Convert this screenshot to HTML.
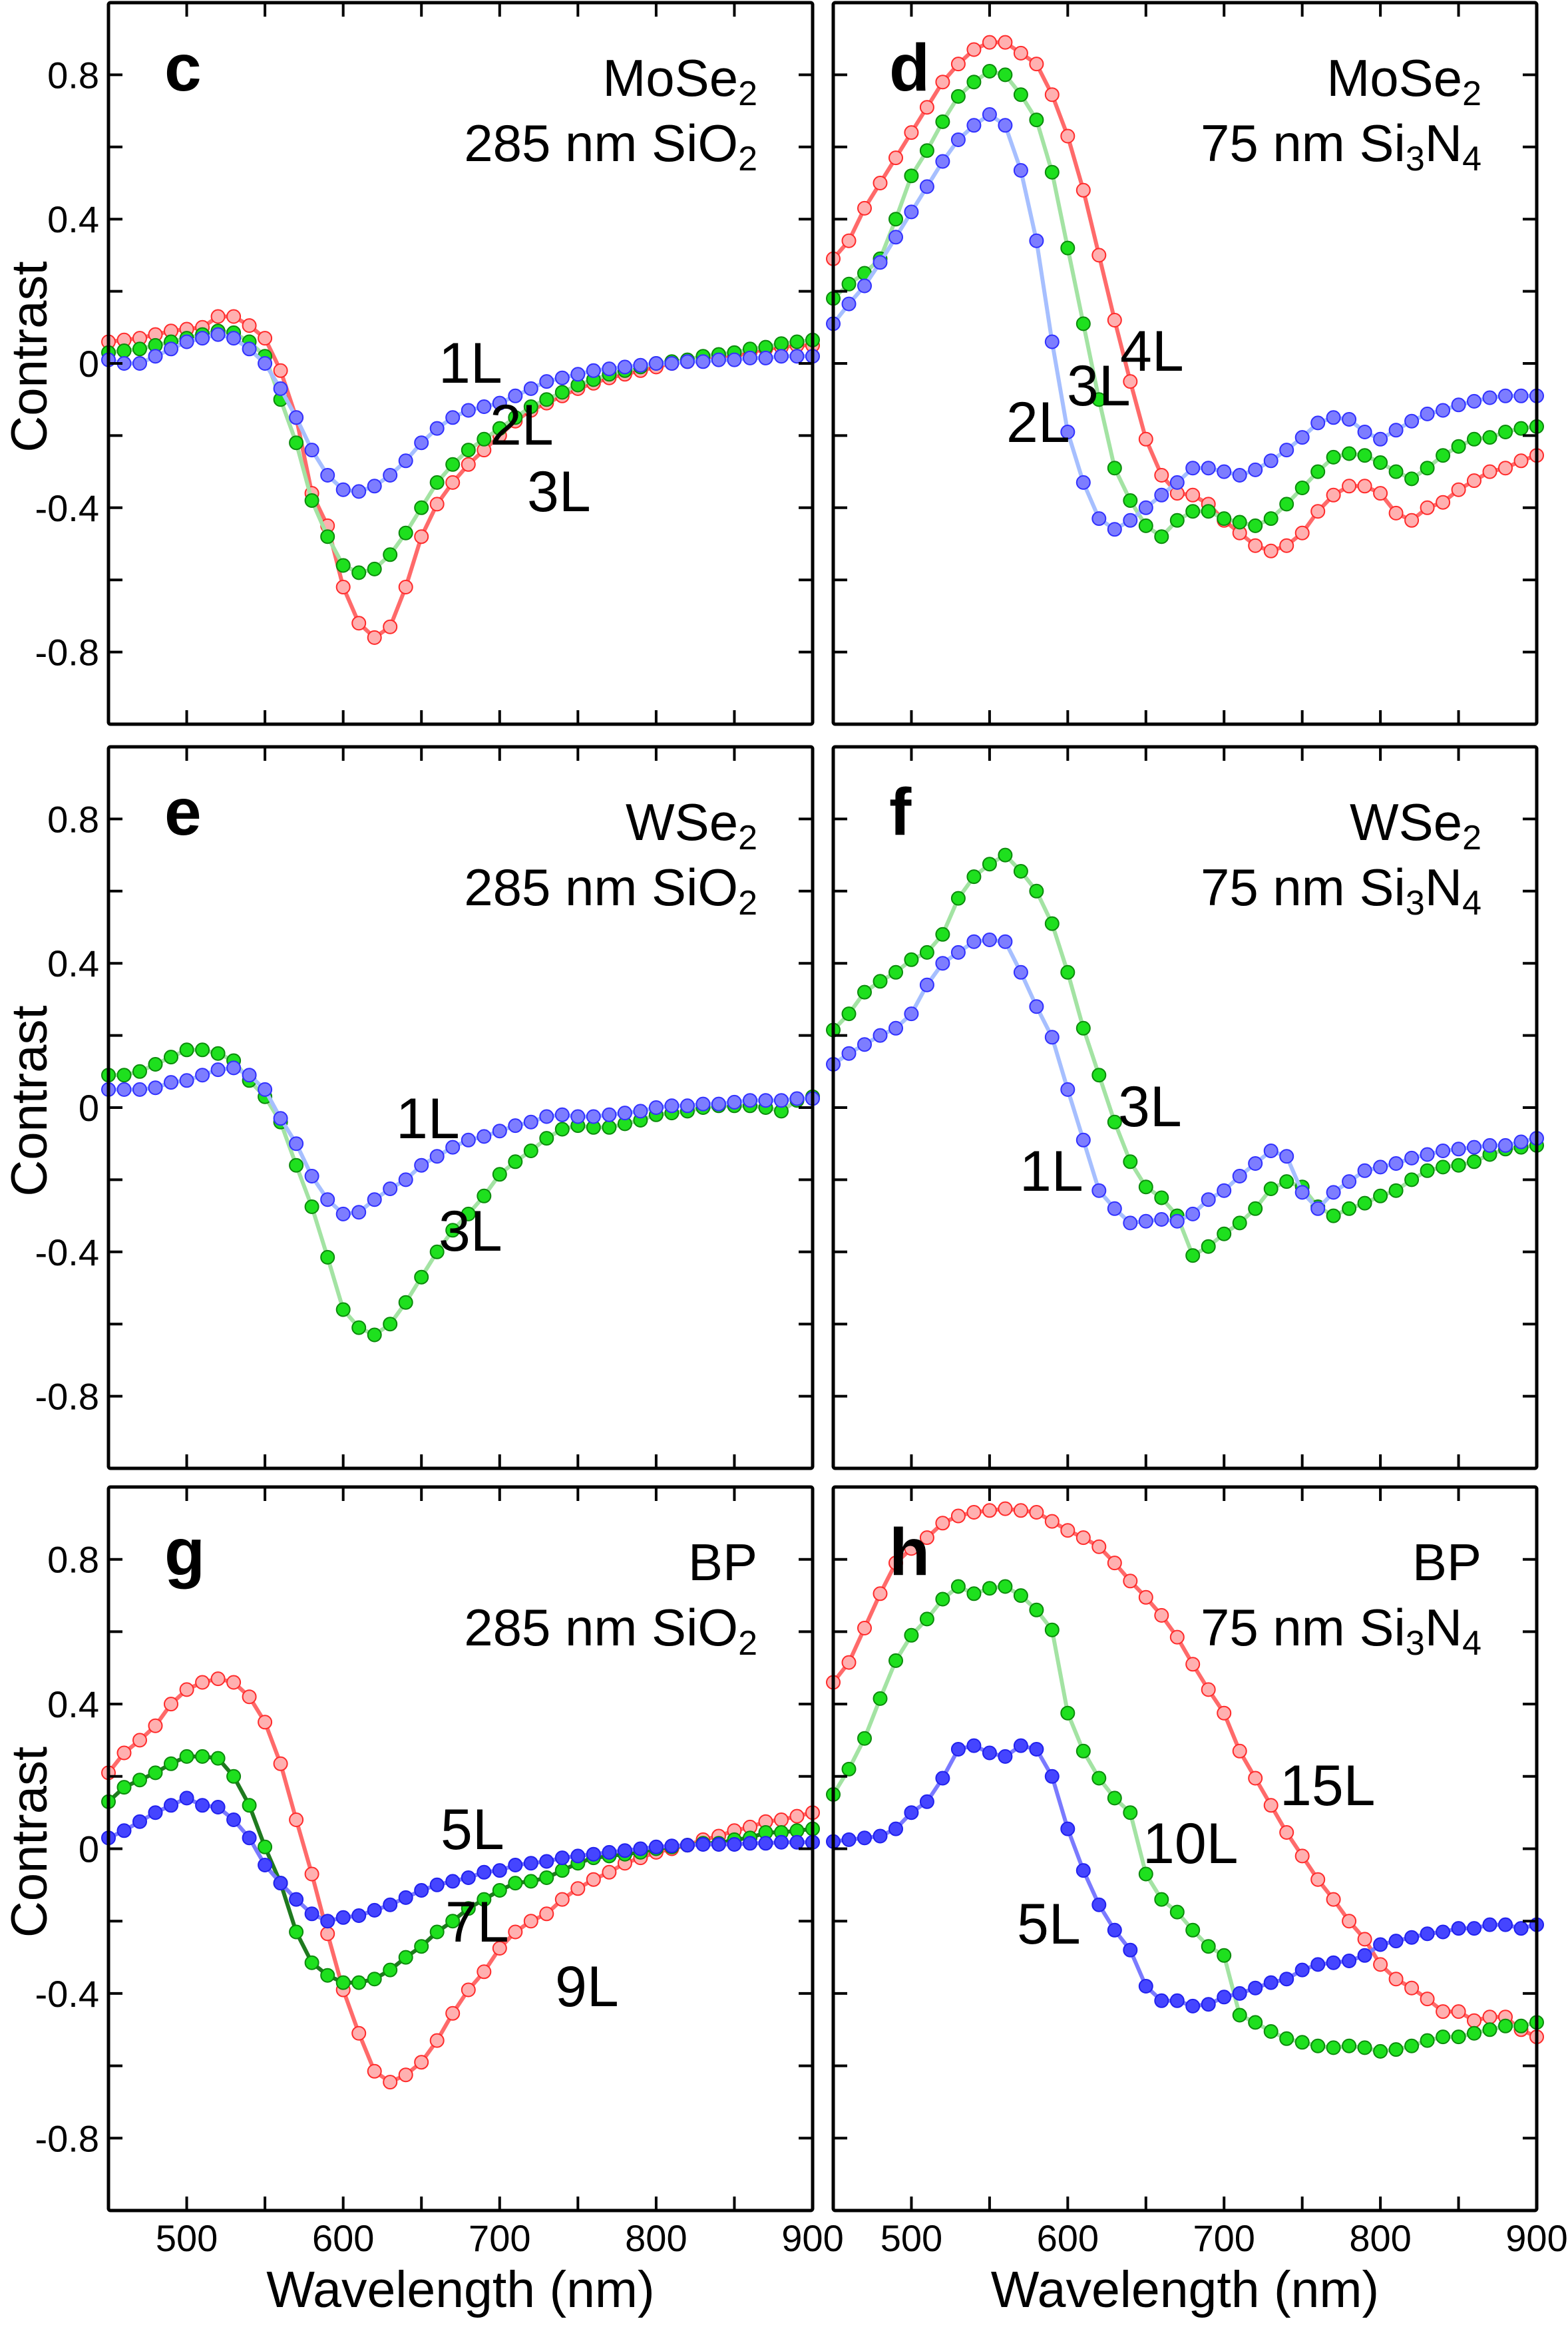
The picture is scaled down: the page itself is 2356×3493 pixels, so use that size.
<!DOCTYPE html>
<html>
<head>
<meta charset="utf-8">
<style>
html,body{margin:0;padding:0;background:#fff;}
svg{display:block;}
text{font-family:"Liberation Sans",sans-serif;fill:#000;}
</style>
</head>
<body>
<svg id="fig" width="2356" height="3493" viewBox="0 0 2356 3493" xmlns="http://www.w3.org/2000/svg"></svg>
<script>
const wavelengths = [];
for (let w = 450; w <= 900; w += 10) wavelengths.push(w);
const yTickValues = [-0.8, -0.6, -0.4, -0.2, 0, 0.2, 0.4, 0.6, 0.8];
const yTickLabels = ["-0.8", "", "-0.4", "", "0", "", "0.4", "", "0.8"];
const xTickValues = [500, 550, 600, 650, 700, 750, 800, 850, 900];
const xTickLabels = ["500", "", "600", "", "700", "", "800", "", "900"];

const cRed = [.06,.065,.07,.08,.09,.095,.10,.13,.13,.105,.07,-.02,-.15,-.36,-.45,-.62,-.72,-.76,-.73,-.62,-.48,-.39,-.33,-.28,-.24,-.20,-.16,-.13,-.11,-.09,-.07,-.055,-.04,-.03,-.02,-.01,0,.005,.01,.015,.02,.03,.04,.045,.05,.05];
const cGreen = [.03,.035,.04,.05,.06,.07,.08,.09,.085,.06,.02,-.10,-.22,-.38,-.48,-.56,-.58,-.57,-.53,-.47,-.40,-.33,-.28,-.24,-.21,-.18,-.15,-.12,-.10,-.08,-.06,-.045,-.03,-.02,-.01,0,.005,.01,.02,.025,.03,.04,.045,.055,.06,.065];
const cBlue = [.01,0,0,.02,.04,.06,.07,.08,.07,.04,0,-.07,-.15,-.24,-.31,-.35,-.355,-.34,-.31,-.27,-.22,-.18,-.15,-.13,-.12,-.11,-.09,-.07,-.05,-.04,-.03,-.02,-.015,-.01,-.005,0,0,.005,.005,.01,.01,.015,.015,.02,.02,.02];

const dRed = [.29,.34,.43,.50,.57,.64,.71,.78,.83,.87,.89,.89,.86,.83,.745,.63,.48,.30,.12,-.05,-.21,-.31,-.36,-.365,-.39,-.435,-.47,-.505,-.52,-.505,-.47,-.41,-.365,-.34,-.34,-.36,-.415,-.435,-.40,-.385,-.35,-.325,-.30,-.29,-.27,-.255];
const dGreen = [.18,.22,.25,.29,.40,.52,.59,.67,.74,.78,.81,.80,.745,.675,.53,.32,.11,-.10,-.29,-.38,-.45,-.48,-.435,-.41,-.41,-.43,-.44,-.45,-.43,-.39,-.345,-.30,-.26,-.25,-.255,-.275,-.30,-.32,-.29,-.255,-.23,-.21,-.205,-.19,-.18,-.175];
const dBlue = [.11,.165,.215,.28,.35,.42,.49,.56,.62,.66,.69,.66,.535,.34,.06,-.19,-.33,-.43,-.46,-.435,-.40,-.365,-.33,-.29,-.29,-.30,-.31,-.295,-.27,-.24,-.205,-.165,-.15,-.155,-.19,-.21,-.185,-.16,-.14,-.13,-.115,-.105,-.095,-.09,-.09,-.09];

const eGreen = [.09,.09,.10,.12,.14,.16,.16,.15,.13,.075,.03,-.04,-.16,-.275,-.415,-.56,-.61,-.63,-.60,-.54,-.47,-.40,-.34,-.295,-.245,-.185,-.15,-.12,-.085,-.06,-.05,-.055,-.055,-.045,-.035,-.02,-.015,-.01,0,.005,.005,.005,0,-.01,.02,.03];
const eBlue = [.05,.05,.05,.055,.07,.075,.09,.105,.11,.09,.05,-.03,-.10,-.19,-.255,-.295,-.29,-.255,-.225,-.20,-.16,-.135,-.11,-.09,-.08,-.065,-.05,-.04,-.025,-.02,-.025,-.025,-.02,-.015,-.01,0,.005,.005,.01,.01,.015,.02,.02,.02,.025,.025];

const fGreen = [.215,.26,.32,.35,.375,.41,.43,.48,.58,.64,.675,.70,.655,.60,.51,.375,.22,.09,-.04,-.15,-.22,-.25,-.30,-.41,-.385,-.35,-.32,-.28,-.225,-.205,-.22,-.275,-.30,-.28,-.265,-.245,-.23,-.20,-.175,-.165,-.16,-.15,-.13,-.115,-.11,-.105];
const fBlue = [.12,.15,.175,.20,.22,.26,.34,.40,.43,.46,.465,.46,.375,.28,.195,.05,-.09,-.23,-.28,-.32,-.315,-.31,-.315,-.295,-.255,-.23,-.19,-.155,-.12,-.135,-.235,-.28,-.235,-.205,-.175,-.165,-.155,-.14,-.13,-.12,-.115,-.11,-.105,-.105,-.095,-.085];

const gRed = [.21,.265,.30,.34,.40,.44,.46,.47,.46,.42,.35,.235,.08,-.07,-.235,-.39,-.51,-.615,-.645,-.625,-.59,-.53,-.455,-.39,-.34,-.275,-.23,-.20,-.18,-.14,-.11,-.085,-.065,-.04,-.025,-.01,0,.01,.025,.035,.05,.06,.075,.08,.09,.10];
const gGreen = [.13,.17,.19,.21,.235,.255,.255,.25,.20,.12,.005,-.095,-.23,-.315,-.35,-.37,-.37,-.36,-.335,-.30,-.27,-.23,-.20,-.165,-.14,-.115,-.095,-.09,-.08,-.06,-.04,-.025,-.02,-.015,-.01,0,.005,.01,.015,.015,.025,.03,.045,.045,.05,.055];
const gBlue = [.03,.05,.075,.10,.12,.14,.12,.115,.08,.03,-.045,-.095,-.14,-.18,-.20,-.19,-.185,-.17,-.155,-.135,-.115,-.10,-.09,-.08,-.065,-.06,-.045,-.04,-.035,-.025,-.02,-.015,-.01,-.005,0,.005,.008,.01,.012,.012,.012,.015,.015,.018,.018,.018];

const hRed = [.46,.515,.61,.705,.79,.83,.86,.90,.92,.93,.935,.94,.935,.93,.905,.88,.86,.835,.79,.74,.695,.645,.585,.51,.44,.375,.27,.195,.12,.045,-.02,-.085,-.14,-.20,-.25,-.32,-.36,-.385,-.415,-.45,-.45,-.475,-.465,-.465,-.50,-.52];
const hGreen = [.15,.22,.305,.415,.52,.59,.635,.69,.725,.705,.72,.725,.70,.66,.605,.375,.27,.195,.14,.10,-.07,-.14,-.175,-.225,-.27,-.295,-.46,-.48,-.505,-.525,-.535,-.545,-.55,-.545,-.55,-.56,-.555,-.545,-.53,-.52,-.52,-.51,-.50,-.49,-.49,-.48];
const hBlue = [.02,.025,.03,.035,.055,.10,.13,.195,.275,.285,.265,.255,.285,.275,.20,.055,-.06,-.155,-.225,-.28,-.38,-.42,-.42,-.435,-.43,-.41,-.40,-.385,-.37,-.36,-.335,-.32,-.315,-.31,-.295,-.265,-.255,-.245,-.235,-.23,-.22,-.22,-.21,-.21,-.22,-.21];

const NS = "http://www.w3.org/2000/svg";
const svg = document.getElementById("fig");
function mk(tag, parent) { const e = document.createElementNS(NS, tag); parent.appendChild(e); return e; }

const RED = {fill:"#ffb0b0", stroke:"#ff2a2a", line:"#ff6a6a"};
const GREEN = {fill:"#1ee01e", stroke:"#0b8a0b", line:"#a3e3a3"};
const BLUE = {fill:"#7d7dff", stroke:"#3030ff", line:"#a6bfff"};
const GDARK = {fill:"#1ee01e", stroke:"#0b8a0b", line:"#1f7a1f"};
const BDEEP = {fill:"#4545ff", stroke:"#2020ee", line:"#7a7aff"};

const panels = [
  {id:"c", x:163, y:4, w:1058, h:1084, left:true, bottom:false, mat:"MoSe", matSub:"2", sub:"sio2",
   series:[[cRed,RED,"3L",792,768],[cGreen,GREEN,"2L",736,668],[cBlue,BLUE,"1L",659,575]]},
  {id:"d", x:1252, y:4, w:1057, h:1084, left:false, bottom:false, mat:"MoSe", matSub:"2", sub:"si3n4",
   series:[[dRed,RED,"4L",1683,557],[dGreen,GREEN,"3L",1603,609],[dBlue,BLUE,"2L",1512,664]]},
  {id:"e", x:163, y:1122, w:1058, h:1084, left:true, bottom:false, mat:"WSe", matSub:"2", sub:"sio2",
   series:[[eGreen,GREEN,"3L",659,1879],[eBlue,BLUE,"1L",595,1710]]},
  {id:"f", x:1252, y:1122, w:1057, h:1084, left:false, bottom:false, mat:"WSe", matSub:"2", sub:"si3n4",
   series:[[fGreen,GREEN,"3L",1680,1692],[fBlue,BLUE,"1L",1532,1789]]},
  {id:"g", x:163, y:2234, w:1058, h:1087, left:true, bottom:true, mat:"BP", matSub:"", sub:"sio2",
   series:[[gRed,RED,"9L",834,3014],[gGreen,GDARK,"7L",669,2917],[gBlue,BDEEP,"5L",662,2778]]},
  {id:"h", x:1252, y:2234, w:1057, h:1087, left:false, bottom:true, mat:"BP", matSub:"", sub:"si3n4",
   series:[[hRed,RED,"15L",1923,2712],[hGreen,GREEN,"10L",1717,2799],[hBlue,BDEEP,"5L",1528,2920]]}
];

panels.forEach(p => {
  const g = mk("g", svg);
  
  
  const xs = v => p.x + (v - 450) / 450 * p.w;
  const ys = v => p.y + p.h / 2 - v * (p.h / 2);

  p.series.forEach(s => {
    const [vals, col, lab] = s;
    const sg = mk("g", g);
    
    
    const pl = mk("polyline", sg);
    
    
    pl.setAttribute("points", vals.map((v, i) => xs(wavelengths[i]).toFixed(1) + "," + ys(v).toFixed(1)).join(" "));
    pl.setAttribute("fill", "none");
    pl.setAttribute("stroke", col.line);
    pl.setAttribute("stroke-width", "6");
    vals.forEach((v, i) => {
      const c = mk("circle", sg);
      
      
      c.setAttribute("cx", xs(wavelengths[i]).toFixed(1));
      c.setAttribute("cy", ys(v).toFixed(1));
      c.setAttribute("r", "10");
      c.setAttribute("fill", col.fill);
      c.setAttribute("stroke", col.stroke);
      c.setAttribute("stroke-width", "2");
    });
  });

  const fr = mk("rect", g);
  
  
  fr.setAttribute("x", p.x); fr.setAttribute("y", p.y);
  fr.setAttribute("width", p.w); fr.setAttribute("height", p.h);
  fr.setAttribute("rx", "3");
  fr.setAttribute("fill", "none"); fr.setAttribute("stroke", "#000"); fr.setAttribute("stroke-width", "5");

  yTickValues.forEach((v, i) => {
    [[p.x, p.x + 21], [p.x + p.w - 21, p.x + p.w]].forEach(seg => {
      const t = mk("line", g);
      
      
      t.setAttribute("x1", seg[0]); t.setAttribute("x2", seg[1]);
      t.setAttribute("y1", ys(v)); t.setAttribute("y2", ys(v));
      t.setAttribute("stroke", "#000"); t.setAttribute("stroke-width", "4");
    });
    if (p.left && yTickLabels[i]) {
      const tl = mk("text", g);
      
      
      tl.setAttribute("x", 149); tl.setAttribute("y", ys(v) + 20);
      tl.setAttribute("text-anchor", "end");
      tl.setAttribute("font-size", "56");
      tl.textContent = yTickLabels[i];
    }
  });
  xTickValues.forEach((v, i) => {
    if (v >= 900) return;
    [[p.y, p.y + 21], [p.y + p.h - 21, p.y + p.h]].forEach(seg => {
      const t = mk("line", g);
      
      
      t.setAttribute("x1", xs(v)); t.setAttribute("x2", xs(v));
      t.setAttribute("y1", seg[0]); t.setAttribute("y2", seg[1]);
      t.setAttribute("stroke", "#000"); t.setAttribute("stroke-width", "4");
    });
  });
  if (p.bottom) {
    xTickValues.forEach((v, i) => {
      if (!xTickLabels[i]) return;
      const tl = mk("text", g);
      
      
      tl.setAttribute("x", xs(v)); tl.setAttribute("y", 3382);
      tl.setAttribute("text-anchor", "middle");
      tl.setAttribute("font-size", "56");
      tl.textContent = xTickLabels[i];
    });
    const xt = mk("text", g);
    
    
    xt.setAttribute("x", p.x + p.w / 2); xt.setAttribute("y", 3466);
    xt.setAttribute("text-anchor", "middle");
    xt.setAttribute("font-size", "77");
    xt.textContent = "Wavelength (nm)";
  }
  if (p.left) {
    const yt = mk("text", g);
    
    
    const cy = p.y + p.h / 2 - 10;
    yt.setAttribute("transform", "translate(70," + cy + ") rotate(-90)");
    yt.setAttribute("text-anchor", "middle");
    yt.setAttribute("font-size", "76");
    yt.textContent = "Contrast";
  }

  const pl = mk("text", g);
  
  
  pl.setAttribute("x", p.x + 84); pl.setAttribute("y", p.y + 132);
  pl.setAttribute("font-size", "100"); pl.setAttribute("font-weight", "bold");
  pl.textContent = p.id;

  const ax = p.x + p.w - 83;
  const a1 = mk("text", g);
  
  
  a1.setAttribute("x", ax); a1.setAttribute("y", p.y + 140);
  a1.setAttribute("text-anchor", "end"); a1.setAttribute("font-size", "78");
  a1.appendChild(document.createTextNode(p.mat));
  if (p.matSub) {
    const ts = mk("tspan", a1); ts.setAttribute("font-size", "52"); ts.setAttribute("dy", "14");
    ts.textContent = p.matSub;
  }
  const a2 = mk("text", g);
  
  
  a2.setAttribute("x", ax); a2.setAttribute("y", p.y + 238);
  a2.setAttribute("text-anchor", "end"); a2.setAttribute("font-size", "78");
  if (p.sub === "sio2") {
    a2.appendChild(document.createTextNode("285 nm SiO"));
    const t = mk("tspan", a2); t.setAttribute("font-size", "52"); t.setAttribute("dy", "14"); t.textContent = "2";
  } else {
    a2.appendChild(document.createTextNode("75 nm Si"));
    const t = mk("tspan", a2); t.setAttribute("font-size", "52"); t.setAttribute("dy", "14"); t.textContent = "3";
    const t2 = mk("tspan", a2); t2.setAttribute("dy", "-14"); t2.textContent = "N";
    const t3 = mk("tspan", a2); t3.setAttribute("font-size", "52"); t3.setAttribute("dy", "14"); t3.textContent = "4";
  }

  p.series.forEach(s => {
    const t = mk("text", g);
    
    
    t.setAttribute("x", s[3]); t.setAttribute("y", s[4]);
    t.setAttribute("font-size", "86");
    t.textContent = s[2];
  });
});
</script>
</body>
</html>
